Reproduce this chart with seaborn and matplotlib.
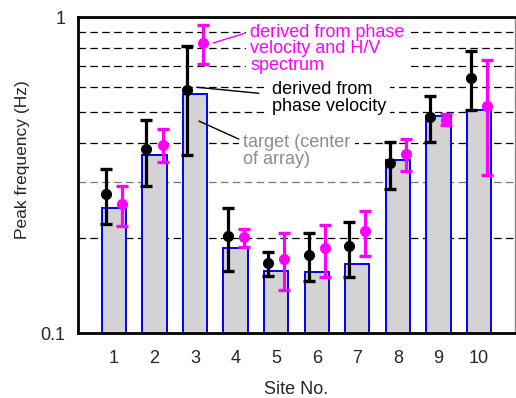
import numpy as np
import pandas as pd
import matplotlib
matplotlib.use("Agg")
import matplotlib.pyplot as plt
import seaborn as sns

# values
sites = ["1", "2", "3", "4", "5", "6", "7", "8", "9", "10"]
target = [0.249, 0.365, 0.573, 0.186, 0.157, 0.156, 0.166, 0.352, 0.487, 0.508]

pv_mid = [0.276, 0.383, 0.590, 0.203, 0.167, 0.177, 0.188, 0.346, 0.484, 0.644]
pv_low = [0.222, 0.292, 0.365, 0.157, 0.152, 0.146, 0.151, 0.286, 0.402, 0.508]
pv_high = [0.330, 0.474, 0.813, 0.249, 0.181, 0.207, 0.225, 0.404, 0.564, 0.781]

hv_mid = [0.257, 0.395, 0.826, 0.201, 0.172, 0.186, 0.210, 0.369, 0.474, 0.523]
hv_low = [0.219, 0.347, 0.713, 0.187, 0.137, 0.150, 0.176, 0.327, 0.456, 0.316]
hv_high = [0.293, 0.443, 0.943, 0.213, 0.208, 0.220, 0.244, 0.411, 0.492, 0.729]

grid_levels = [0.2, 0.3, 0.4, 0.5, 0.6, 0.7, 0.8, 0.9]

sns.set_style("white")
plt.rcParams["font.family"] = ["Liberation Sans", "DejaVu Sans"]
plt.rcParams["font.size"] = 13

fig = plt.figure(figsize=(5.16, 3.98), dpi=100)
ax = fig.add_axes([0.151, 0.163, 0.847, 0.794])

df = pd.DataFrame({"Site": sites, "Target": target})
sns.barplot(data=df, x="Site", y="Target", width=0.6, color="#d3d3d3",
            saturation=1, edgecolor="#0000ff", linewidth=1.4, ax=ax, zorder=2)

ax.set_yscale("log")
ax.set_ylim(0.1, 1)
ax.set_xlim(-0.89, 9.89)

for lev in grid_levels:
    ax.axhline(lev, color="#777777" if lev == 0.3 else "black", lw=0.9,
               ls=(0, (6, 3.5)), zorder=1)

x = np.arange(len(sites))
pv_mid = np.array(pv_mid)
hv_mid = np.array(hv_mid)
ax.errorbar(x - 0.2, pv_mid, yerr=[pv_mid - np.array(pv_low), np.array(pv_high) - pv_mid],
            fmt="o", color="black", ms=7, elinewidth=2.3, capsize=4, capthick=2.4, zorder=4)
ax.errorbar(x + 0.2, hv_mid, yerr=[hv_mid - np.array(hv_low), np.array(hv_high) - hv_mid],
            fmt="o", color="#ff00ff", ms=7, elinewidth=2.3, capsize=4, capthick=2.4, zorder=4)

# labels with leader lines, white boxes hide the grid behind them
box = dict(facecolor="white", edgecolor="none", pad=3)
ax.text(0.394, 0.90, "derived from phase\nvelocity and H/V\nspectrum", transform=ax.transAxes,
        color="#ff00ff", ha="left", va="center", linespacing=0.95, zorder=3, bbox=box)
ax.annotate("", xy=(0.309, 0.918), xytext=(0.382, 0.949), xycoords="axes fraction",
            arrowprops=dict(arrowstyle="-", color="#ff00ff", lw=1, shrinkA=0, shrinkB=0))

ax.text(0.444, 0.744, "derived from\nphase velocity", transform=ax.transAxes,
        color="black", ha="left", va="center", linespacing=0.95, zorder=3, bbox=box)
ax.annotate("", xy=(0.272, 0.778), xytext=(0.414, 0.759), xycoords="axes fraction",
            arrowprops=dict(arrowstyle="-", color="black", lw=1, shrinkA=0, shrinkB=0))

ax.text(0.378, 0.576, "target (center\nof array)", transform=ax.transAxes,
        color="#8c8c8c", ha="left", va="center", linespacing=0.95, zorder=3, bbox=box)
ax.annotate("", xy=(0.277, 0.671), xytext=(0.368, 0.614), xycoords="axes fraction",
            arrowprops=dict(arrowstyle="-", color="black", lw=1, shrinkA=0, shrinkB=0))

ax.set_yticks([0.1, 1])
ax.set_yticklabels(["0.1", "1"])
ax.yaxis.set_minor_locator(matplotlib.ticker.NullLocator())
ax.tick_params(axis="y", length=0, pad=9)
ax.tick_params(axis="x", length=0, pad=12)

ax.set_xlabel("Site No.", labelpad=10)
ax.set_ylabel("Peak frequency (Hz)", fontsize=12.5)
ax.yaxis.set_label_coords(-0.109, 0.55)

for side in ["left", "bottom", "top"]:
    ax.spines[side].set_color("black")
    ax.spines[side].set_linewidth(2)
ax.spines["right"].set_color("#888888")
ax.spines["right"].set_linewidth(1)

fig.savefig("out.png", dpi=100)
